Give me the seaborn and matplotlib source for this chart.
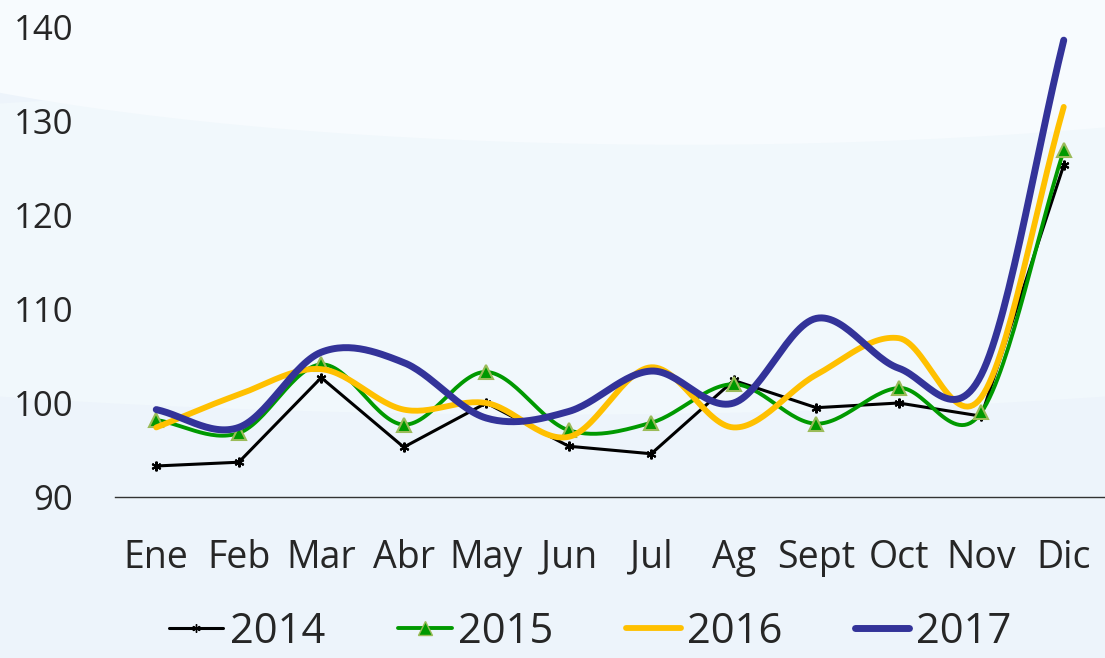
import numpy as np
import pandas as pd
import matplotlib
matplotlib.use("Agg")
import matplotlib.pyplot as plt
import seaborn as sns
from matplotlib.patches import Ellipse
from matplotlib.lines import Line2D

months = ["Ene", "Feb", "Mar", "Abr", "May", "Jun", "Jul", "Ag", "Sept", "Oct", "Nov", "Dic"]
v2014 = [93.3, 93.7, 102.7, 95.3, 100.0, 95.4, 94.6, 102.4, 99.5, 100.0, 98.6, 125.3]
v2015 = [98.2, 96.8, 104.1, 97.7, 103.3, 97.1, 97.9, 102.0, 97.8, 101.6, 99.0, 126.9]
v2016 = [97.4, 100.9, 103.6, 99.3, 100.0, 96.4, 103.8, 97.4, 103.0, 106.9, 100.6, 131.5]
v2017 = [99.3, 97.4, 105.4, 104.3, 98.4, 99.1, 103.4, 100.0, 109.0, 103.7, 103.0, 138.6]


def smooth(y, n=30):
    # Catmull-Rom curve through the points, like Excel's smoothed line
    y = np.asarray(y, dtype=float)
    p = np.concatenate([[2 * y[0] - y[1]], y, [2 * y[-1] - y[-2]]])
    xs, ys = [], []
    for i in range(len(y) - 1):
        t = np.linspace(0, 1, n, endpoint=False)
        p0, p1, p2, p3 = p[i], p[i + 1], p[i + 2], p[i + 3]
        yy = 0.5 * ((2 * p1) + (-p0 + p2) * t + (2 * p0 - 5 * p1 + 4 * p2 - p3) * t**2
                    + (-p0 + 3 * p1 - 3 * p2 + p3) * t**3)
        xs.append(i + t)
        ys.append(yy)
    xs.append([len(y) - 1])
    ys.append([y[-1]])
    return np.concatenate(xs), np.concatenate(ys)


sns.set_style("white")
plt.rcParams["font.family"] = ["Open Sans", "DejaVu Sans"]

fig = plt.figure(figsize=(11.05, 6.58), dpi=100)
fig.patch.set_facecolor("#edf4fb")

# soft background swooshes
bg = fig.add_axes([0, 0, 1, 1], zorder=0)
bg.set_xlim(0, 1)
bg.set_ylim(0, 1)
bg.axis("off")
bg.add_patch(Ellipse((0.5, 0.62), 2.2, 0.5, color="#f1f8fc", lw=0))
bg.add_patch(Ellipse((0.62, 1.03), 1.7, 0.5, color="#f7fbfe", lw=0))

ax = fig.add_axes([115 / 1105, 161 / 658, 990 / 1105, 470 / 658], zorder=1)
ax.patch.set_alpha(0)

x = np.arange(len(months))
df14 = pd.DataFrame({"x": x, "y": v2014})
sns.lineplot(data=df14, x="x", y="y", ax=ax, color="black", lw=2.2,
             marker=(6, 2, 0), markersize=7, markeredgewidth=1.5,
             markeredgecolor="black", legend=False)

xs, ys = smooth(v2015)
sns.lineplot(x=xs, y=ys, ax=ax, color="#009900", lw=2.8, sort=False)
ax.plot(x, v2015, ls="none", marker="^", markersize=10, markerfacecolor="#009900",
        markeredgecolor="#9bbb59", markeredgewidth=1.5)

xs, ys = smooth(v2016)
sns.lineplot(x=xs, y=ys, ax=ax, color="#ffc000", lw=4.2, sort=False,
             solid_capstyle="round")
xs, ys = smooth(v2017)
sns.lineplot(x=xs, y=ys, ax=ax, color="#333399", lw=5, sort=False,
             solid_capstyle="round")

ax.set_xlim(-0.5, 11.5)
ax.set_ylim(90, 140)
ax.set_yticks([90, 100, 110, 120, 130, 140])
ax.set_xticks(x)
ax.set_xticklabels(months)
ax.set_xlabel("")
ax.set_ylabel("")
for s in ["top", "right", "left"]:
    ax.spines[s].set_visible(False)
ax.spines["bottom"].set_color("#333333")
ax.spines["bottom"].set_linewidth(1)
ax.tick_params(axis="y", length=0, pad=30, labelsize=25)
ax.tick_params(axis="x", length=0, pad=30, labelsize=27)

handles = [
    Line2D([], [], color="black", lw=2.2, marker=(6, 2, 0), markersize=6),
    Line2D([], [], color="#009900", lw=2.8, marker="^", markersize=10,
           markerfacecolor="#009900", markeredgecolor="#9bbb59"),
    Line2D([], [], color="#ffc000", lw=4.2, solid_capstyle="round"),
    Line2D([], [], color="#333399", lw=5, solid_capstyle="round"),
]
fig.legend(handles, ["2014", "2015", "2016", "2017"], loc="center",
           bbox_to_anchor=(0.534, 0.04), ncol=4, frameon=False, fontsize=30,
           handlelength=1.3, handletextpad=0.15, columnspacing=1.75)

fig.savefig("out.png", dpi=100, facecolor=fig.get_facecolor())
